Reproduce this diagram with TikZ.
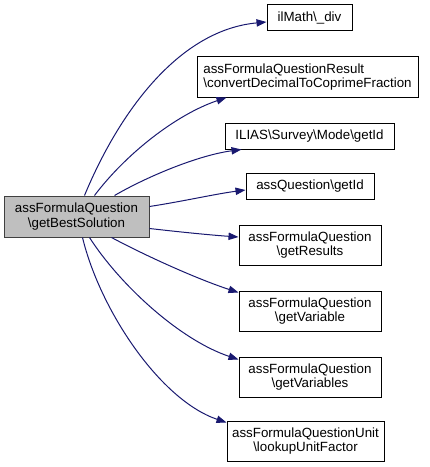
\documentclass[tikz,border=0pt]{standalone}
\usepackage{fontspec}
\setmainfont{Liberation Sans}
\usetikzlibrary{arrows.meta,calc}
\definecolor{edgeblue}{HTML}{191970}
\definecolor{mainfill}{HTML}{BFBFBF}
\definecolor{mainborder}{HTML}{404040}
\tikzset{
  fbox/.style={draw=black, line width=0.75pt, fill=white, inner sep=0pt, align=center,
    font=\fontsize{10pt}{10.8pt}\selectfont},
  mainbox/.style={fbox, fill=mainfill, draw=mainborder},
  edge/.style={draw=edgeblue, line width=0.75pt, -{Triangle[length=7.5pt,width=5.5pt]}},
}
\begin{document}
\begin{tikzpicture}[x=0.75pt,y=-0.75pt]
\useasboundingbox (0,0) rectangle (429,467);
\node[mainbox, minimum width=108.75pt, minimum height=30.75pt] (main) at (76.5,216.5) {assFormulaQuestion\\\textbackslash getBestSolution};
\node[fbox, minimum width=63.75pt, minimum height=19.5pt] (ilmath) at (309.5,18) {ilMath\textbackslash\_div};
\node[fbox, minimum width=165.75pt, minimum height=30pt, align=left] (conv) at (307.5,77) {assFormulaQuestionResult\\\textbackslash convertDecimalToCoprimeFraction};
\node[fbox, minimum width=126.75pt, minimum height=19.5pt] (ilias) at (309.5,136) {ILIAS\textbackslash Survey\textbackslash Mode\textbackslash getId};
\node[fbox, minimum width=96pt, minimum height=19pt] (aqid) at (310,186.5) {assQuestion\textbackslash getId};
\node[fbox, minimum width=106.5pt, minimum height=30pt] (gres) at (310,245) {assFormulaQuestion\\\textbackslash getResults};
\node[fbox, minimum width=106.5pt, minimum height=30pt] (gvar) at (310,311) {assFormulaQuestion\\\textbackslash getVariable};
\node[fbox, minimum width=106.5pt, minimum height=30pt] (gvars) at (310,377) {assFormulaQuestion\\\textbackslash getVariables};
\node[fbox, minimum width=117.75pt, minimum height=30pt] (luf) at (305.5,441) {assFormulaQuestionUnit\\\textbackslash lookupUnitFactor};

\draw[edge] ($(main.north west)+(81,0)$) .. controls (120,110) and (180,30) .. ($(ilmath.west)+(0,4)$);
\draw[edge] ($(main.north west)+(91,0)$) .. controls (125,155) and (175,115) .. ($(conv.south west)+(30,0)$);
\draw[edge] ($(main.north west)+(111,0)$) .. controls (150,175) and (200,155) .. ($(ilias.south west)+(17,0)$);
\draw[edge] ($(main.north east)+(0,11)$) .. controls (185,201) and (215,194) .. ($(aqid.west)+(0,3.5)$);
\draw[edge] ($(main.north east)+(0,33)$) .. controls (180,232) and (210,235) .. ($(gres.west)+(0,-8)$);
\draw[edge] ($(main.south west)+(108,0)$) .. controls (150,258) and (200,280) .. ($(gvar.north west)+(0,2)$);
\draw[edge] ($(main.south west)+(86,0)$) .. controls (120,285) and (180,340) .. ($(gvars.north west)+(0,3)$);
\draw[edge] ($(main.south west)+(79,0)$) .. controls (100,310) and (160,400) .. ($(luf.north west)+(0,2)$);
\end{tikzpicture}
\end{document}
